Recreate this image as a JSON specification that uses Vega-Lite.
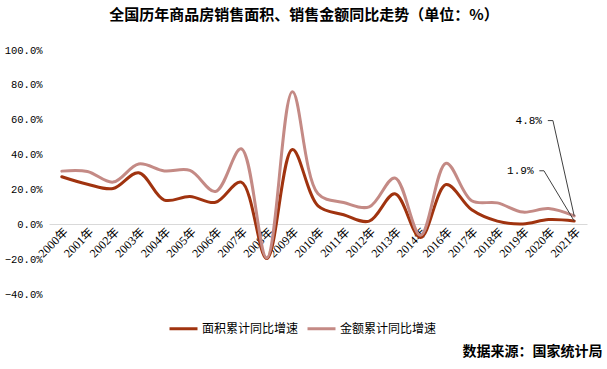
{
  "$schema": "https://vega.github.io/schema/vega-lite/v6.json",
  "autosize": "none",
  "width": 538,
  "height": 244,
  "padding": {"left": 49, "top": 50, "right": 20, "bottom": 75},
  "background": "white",
  "title": {
    "text": "全国历年商品房销售面积、销售金额同比走势（单位：%）",
    "font": "Noto Sans CJK SC",
    "fontSize": 15,
    "fontWeight": "bold",
    "color": "#000000",
    "anchor": "middle",
    "dx": -14,
    "offset": 22
  },
  "datasets": {
    "main": [
      {"year": "2000年", "series": "面积累计同比增速", "value": 27.3},
      {"year": "2001年", "series": "面积累计同比增速", "value": 23.0},
      {"year": "2002年", "series": "面积累计同比增速", "value": 20.5},
      {"year": "2003年", "series": "面积累计同比增速", "value": 29.6},
      {"year": "2004年", "series": "面积累计同比增速", "value": 13.9},
      {"year": "2005年", "series": "面积累计同比增速", "value": 16.0},
      {"year": "2006年", "series": "面积累计同比增速", "value": 12.6},
      {"year": "2007年", "series": "面积累计同比增速", "value": 24.2},
      {"year": "2008年", "series": "面积累计同比增速", "value": -19.7},
      {"year": "2009年", "series": "面积累计同比增速", "value": 42.9},
      {"year": "2010年", "series": "面积累计同比增速", "value": 10.6},
      {"year": "2011年", "series": "面积累计同比增速", "value": 5.5},
      {"year": "2012年", "series": "面积累计同比增速", "value": 1.8},
      {"year": "2013年", "series": "面积累计同比增速", "value": 17.5},
      {"year": "2014年", "series": "面积累计同比增速", "value": -7.6},
      {"year": "2016年", "series": "面积累计同比增速", "value": 22.8},
      {"year": "2017年", "series": "面积累计同比增速", "value": 8.3},
      {"year": "2018年", "series": "面积累计同比增速", "value": 1.8},
      {"year": "2019年", "series": "面积累计同比增速", "value": 0.2},
      {"year": "2020年", "series": "面积累计同比增速", "value": 2.7},
      {"year": "2021年", "series": "面积累计同比增速", "value": 1.9},
      {"year": "2000年", "series": "金额累计同比增速", "value": 30.5},
      {"year": "2001年", "series": "金额累计同比增速", "value": 30.3},
      {"year": "2002年", "series": "金额累计同比增速", "value": 24.2},
      {"year": "2003年", "series": "金额累计同比增速", "value": 34.6},
      {"year": "2004年", "series": "金额累计同比增速", "value": 30.6},
      {"year": "2005年", "series": "金额累计同比增速", "value": 30.9},
      {"year": "2006年", "series": "金额累计同比增速", "value": 18.8},
      {"year": "2007年", "series": "金额累计同比增速", "value": 43.3},
      {"year": "2008年", "series": "金额累计同比增速", "value": -19.3},
      {"year": "2009年", "series": "金额累计同比增速", "value": 76.0},
      {"year": "2010年", "series": "金额累计同比增速", "value": 17.5},
      {"year": "2011年", "series": "金额累计同比增速", "value": 12.5},
      {"year": "2012年", "series": "金额累计同比增速", "value": 10.0},
      {"year": "2013年", "series": "金额累计同比增速", "value": 26.6},
      {"year": "2014年", "series": "金额累计同比增速", "value": -6.3},
      {"year": "2016年", "series": "金额累计同比增速", "value": 35.0},
      {"year": "2017年", "series": "金额累计同比增速", "value": 13.5},
      {"year": "2018年", "series": "金额累计同比增速", "value": 12.3},
      {"year": "2019年", "series": "金额累计同比增速", "value": 7.0},
      {"year": "2020年", "series": "金额累计同比增速", "value": 9.0},
      {"year": "2021年", "series": "金额累计同比增速", "value": 4.8}
    ],
    "leaders": [
      {"label": "4.8%", "o": 0, "pos": 18.97, "value": 59.5},
      {"label": "4.8%", "o": 1, "pos": 19.17, "value": 59.5},
      {"label": "4.8%", "o": 2, "pos": 20.0, "value": 4.8},
      {"label": "1.9%", "o": 0, "pos": 18.64, "value": 30.7},
      {"label": "1.9%", "o": 1, "pos": 18.82, "value": 30.7},
      {"label": "1.9%", "o": 2, "pos": 20.0, "value": 1.9}
    ],
    "labels": [
      {"label": "4.8%", "pos": 18.82, "value": 59.5},
      {"label": "1.9%", "pos": 18.49, "value": 30.7}
    ]
  },
  "encoding": {
    "y": {
      "field": "value",
      "type": "quantitative",
      "scale": {"domain": [-40, 100], "nice": false, "zero": false},
      "axis": {
        "title": null,
        "values": [-40, -20, 0, 20, 40, 60, 80, 100],
        "labelExpr": "format(datum.value, '.1f') + '%'",
        "labelFont": "Liberation Mono",
        "labelFontSize": 10.5,
        "labelColor": "#000000",
        "labelPadding": 7,
        "labelOverlap": false,
        "labelFlush": false,
        "labelBound": false,
        "ticks": false,
        "domain": false,
        "grid": false
      }
    }
  },
  "layer": [
    {
      "data": {"name": "main"},
      "mark": {"type": "line", "interpolate": "catmull-rom", "strokeWidth": 3, "strokeCap": "round"},
      "encoding": {
        "x": {
          "field": "year",
          "type": "ordinal",
          "sort": null,
          "axis": {
            "title": "数据来源：国家统计局",
            "titleFont": "Noto Sans CJK SC",
            "titleFontSize": 14,
            "titleFontWeight": "bold",
            "titleColor": "#000000",
            "titleAlign": "right",
            "titleBaseline": "middle",
            "titleAnchor": null,
            "titleX": 553,
            "titleY": 127,
            "offset": -70,
            "labelAngle": -45,
            "labelFont": "Liberation Serif, Noto Sans CJK SC",
            "labelFontSize": 12,
            "labelColor": "#000000",
            "labelPadding": 2,
            "labelOverlap": false,
            "ticks": false,
            "domainColor": "#d9d9d9",
            "domainWidth": 1,
            "grid": false
          }
        },
        "color": {
          "field": "series",
          "type": "nominal",
          "scale": {"domain": ["面积累计同比增速", "金额累计同比增速"], "range": ["#a0330f", "#c48a85"]},
          "legend": {
            "title": null,
            "orient": "none",
            "legendX": 119,
            "legendY": 263,
            "direction": "horizontal",
            "columns": 2,
            "symbolType": "stroke",
            "symbolStrokeWidth": 3,
            "symbolSize": 784,
            "labelFont": "Noto Sans CJK SC",
            "labelFontSize": 12,
            "labelColor": "#000000",
            "labelOffset": 3,
            "columnPadding": 2
          }
        },
        "order": {"field": "series", "sort": "descending"}
      }
    },
    {
      "data": {"name": "leaders"},
      "mark": {"type": "line", "color": "#404040", "strokeWidth": 1},
      "encoding": {
        "x": {"field": "pos", "type": "quantitative", "scale": {"domain": [-0.5, 20.5], "nice": false, "zero": false}, "axis": null},
        "detail": {"field": "label"},
        "order": {"field": "o"}
      }
    },
    {
      "data": {"name": "labels"},
      "mark": {"type": "text", "align": "right", "baseline": "middle", "font": "Liberation Mono", "fontSize": 11, "color": "#000000", "dx": -2},
      "encoding": {
        "x": {"field": "pos", "type": "quantitative", "scale": {"domain": [-0.5, 20.5], "nice": false, "zero": false}, "axis": null},
        "text": {"field": "label"}
      }
    }
  ],
  "resolve": {"scale": {"x": "independent"}},
  "config": {"view": {"stroke": null}}
}
